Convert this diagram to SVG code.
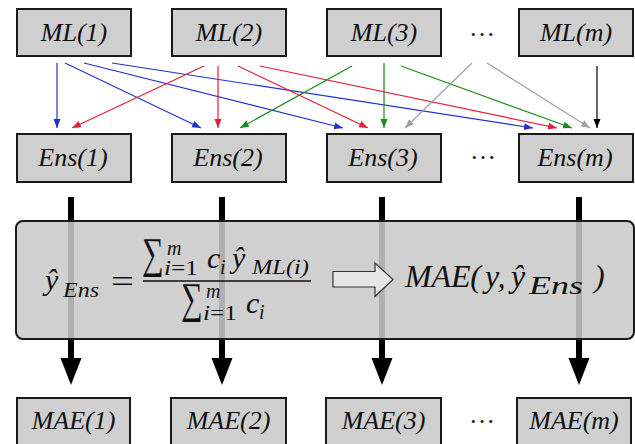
<svg xmlns="http://www.w3.org/2000/svg" width="635" height="444" viewBox="0 0 635 444">
<style>
.box{fill:#cfcfcf;stroke:#1a1a1a;stroke-width:2}
.lbl{font-family:"Liberation Serif","Times New Roman",serif;font-style:italic;font-size:26px;fill:#111;text-anchor:middle}
.dots{font-family:"Liberation Serif",serif;font-size:26px;fill:#111;text-anchor:middle}
.m{font-family:"Liberation Serif","Times New Roman",serif;font-style:italic;fill:#111}
.up{font-style:normal}
.thin{stroke-width:1.2;fill:none}
.thick{stroke:#000;stroke-width:6;fill:none}
</style>
<defs>
<marker id="aB" markerUnits="userSpaceOnUse" markerWidth="10" markerHeight="8" refX="9" refY="4" orient="auto"><path d="M0,0.5 L9,4 L0,7.5 z" fill="#2233cc"/></marker>
<marker id="aR" markerUnits="userSpaceOnUse" markerWidth="10" markerHeight="8" refX="9" refY="4" orient="auto"><path d="M0,0.5 L9,4 L0,7.5 z" fill="#e41f3a"/></marker>
<marker id="aG" markerUnits="userSpaceOnUse" markerWidth="10" markerHeight="8" refX="9" refY="4" orient="auto"><path d="M0,0.5 L9,4 L0,7.5 z" fill="#1a8c1a"/></marker>
<marker id="aY" markerUnits="userSpaceOnUse" markerWidth="10" markerHeight="8" refX="9" refY="4" orient="auto"><path d="M0,0.5 L9,4 L0,7.5 z" fill="#a0a0a0"/></marker>
<marker id="aK" markerUnits="userSpaceOnUse" markerWidth="10" markerHeight="8" refX="9" refY="4" orient="auto"><path d="M0,0.5 L9,4 L0,7.5 z" fill="#000"/></marker>
<marker id="aT" markerUnits="userSpaceOnUse" markerWidth="28" markerHeight="22" refX="0" refY="10.5" orient="auto"><path d="M0,0 L27,10.5 L0,21 z" fill="#000"/></marker>
</defs>
<rect width="635" height="444" fill="#fff"/>

<g id="connectors">
<g class="thin" stroke="#2233cc">
<line x1="57" y1="63" x2="57" y2="128" marker-end="url(#aB)"/>
<line x1="65" y1="63" x2="201" y2="128" marker-end="url(#aB)"/>
<line x1="84" y1="63" x2="343" y2="128" marker-end="url(#aB)"/>
<line x1="112" y1="63" x2="533" y2="128" marker-end="url(#aB)"/>
</g>
<g class="thin" stroke="#e41f3a">
<line x1="204" y1="66" x2="72" y2="128" marker-end="url(#aR)"/>
<line x1="218" y1="66" x2="218" y2="128" marker-end="url(#aR)"/>
<line x1="238" y1="66" x2="368" y2="128" marker-end="url(#aR)"/>
<line x1="260" y1="66" x2="557" y2="128" marker-end="url(#aR)"/>
</g>
<g class="thin" stroke="#1a8c1a">
<line x1="352" y1="66" x2="240" y2="128" marker-end="url(#aG)"/>
<line x1="384" y1="63" x2="384" y2="128" marker-end="url(#aG)"/>
<line x1="401" y1="66" x2="572" y2="128" marker-end="url(#aG)"/>
</g>
<g class="thin" stroke="#a0a0a0">
<line x1="472" y1="63" x2="405" y2="128" marker-end="url(#aY)"/>
<line x1="487" y1="63" x2="590" y2="128" marker-end="url(#aY)"/>
</g>
<line class="thin" stroke="#000" x1="597" y1="66" x2="597" y2="128" marker-end="url(#aK)"/>
<line class="thick" x1="71" y1="197" x2="71" y2="358" marker-end="url(#aT)"/>
<line class="thick" x1="222" y1="197" x2="222" y2="358" marker-end="url(#aT)"/>
<line class="thick" x1="382" y1="197" x2="382" y2="358" marker-end="url(#aT)"/>
<line class="thick" x1="579" y1="197" x2="579" y2="358" marker-end="url(#aT)"/>
</g>

<g id="ml1"><rect class="box" x="17" y="9" width="114" height="47"/><text class="lbl" x="74" y="41">ML(1)</text></g>
<g id="ml2"><rect class="box" x="172" y="9" width="114" height="47"/><text class="lbl" x="229" y="41">ML(2)</text></g>
<g id="ml3"><rect class="box" x="327" y="9" width="114" height="47"/><text class="lbl" x="384" y="41">ML(3)</text></g>
<g id="mldots"><text class="dots" x="482" y="36">…</text></g>
<g id="mlm"><rect class="box" x="519" y="9" width="114" height="47"/><text class="lbl" x="576" y="41">ML(m)</text></g>

<g id="ens1"><rect class="box" x="17" y="134" width="114" height="48"/><text class="lbl" x="73" y="166">Ens(1)</text></g>
<g id="ens2"><rect class="box" x="172" y="134" width="114" height="48"/><text class="lbl" x="228" y="166">Ens(2)</text></g>
<g id="ens3"><rect class="box" x="327" y="134" width="114" height="48"/><text class="lbl" x="383" y="166">Ens(3)</text></g>
<g id="ensdots"><text class="dots" x="483" y="159">…</text></g>
<g id="ensm"><rect class="box" x="519" y="134" width="114" height="48"/><text class="lbl" x="575" y="166">Ens(m)</text></g>

<g id="formula">
<rect x="16" y="221" width="618" height="118" rx="7" fill="#c9c9c9" fill-opacity="0.875" stroke="#1a1a1a" stroke-width="2"/>
<text class="m" x="45" y="290" font-size="30">ŷ</text>
<text class="m" x="63" y="297" font-size="21" textLength="36" lengthAdjust="spacingAndGlyphs">Ens</text>
<text class="m up" x="111" y="292" font-size="32" textLength="23" lengthAdjust="spacingAndGlyphs">=</text>
<text class="m up" font-size="38" transform="translate(142,268) scale(0.8,1.15)">∑</text>
<text class="m" x="167" y="255" font-size="20">m</text>
<text class="m" x="164" y="275" font-size="20" textLength="34" lengthAdjust="spacingAndGlyphs">i<tspan class="up">=1</tspan></text>
<text class="m" x="207" y="268" font-size="30">c</text>
<text class="m" x="220" y="274" font-size="20">i</text>
<text class="m" x="232" y="268" font-size="30">ŷ</text>
<text class="m" x="252" y="274" font-size="22" textLength="57" lengthAdjust="spacingAndGlyphs">ML(i)</text>
<line x1="143" y1="281" x2="311" y2="281" stroke="#111" stroke-width="1.6"/>
<text class="m up" font-size="38" transform="translate(181,313) scale(0.8,1.15)">∑</text>
<text class="m" x="206" y="298" font-size="20">m</text>
<text class="m" x="203" y="320" font-size="20" textLength="34" lengthAdjust="spacingAndGlyphs">i<tspan class="up">=1</tspan></text>
<text class="m" x="246" y="313" font-size="30">c</text>
<text class="m" x="259" y="319" font-size="20">i</text>
<path d="M333,271.5 L375,271.5 L375,263 L393,279.5 L375,296.5 L375,287 L333,287 z" fill="#e6e6e6" stroke="#333" stroke-width="1.2"/>
<text class="m" x="405" y="287" font-size="32" textLength="76" lengthAdjust="spacing">MAE(</text>
<text class="m" x="485" y="287" font-size="32">y,</text>
<text class="m" x="511" y="287" font-size="32">ŷ</text>
<text class="m" x="529" y="294" font-size="25" textLength="54" lengthAdjust="spacingAndGlyphs">Ens</text>
<text class="m" x="594" y="287" font-size="32">)</text>
</g>

<g id="mae1"><rect class="box" x="17" y="398" width="113" height="50"/><text class="lbl" x="73.5" y="429">MAE(1)</text></g>
<g id="mae2"><rect class="box" x="171" y="398" width="115" height="50"/><text class="lbl" x="228.5" y="429">MAE(2)</text></g>
<g id="mae3"><rect class="box" x="326" y="398" width="115" height="50"/><text class="lbl" x="383.5" y="429">MAE(3)</text></g>
<g id="maedots"><text class="dots" x="482" y="423">…</text></g>
<g id="maem"><rect class="box" x="517" y="398" width="114" height="50"/><text class="lbl" x="574" y="429">MAE(m)</text></g>
</svg>
